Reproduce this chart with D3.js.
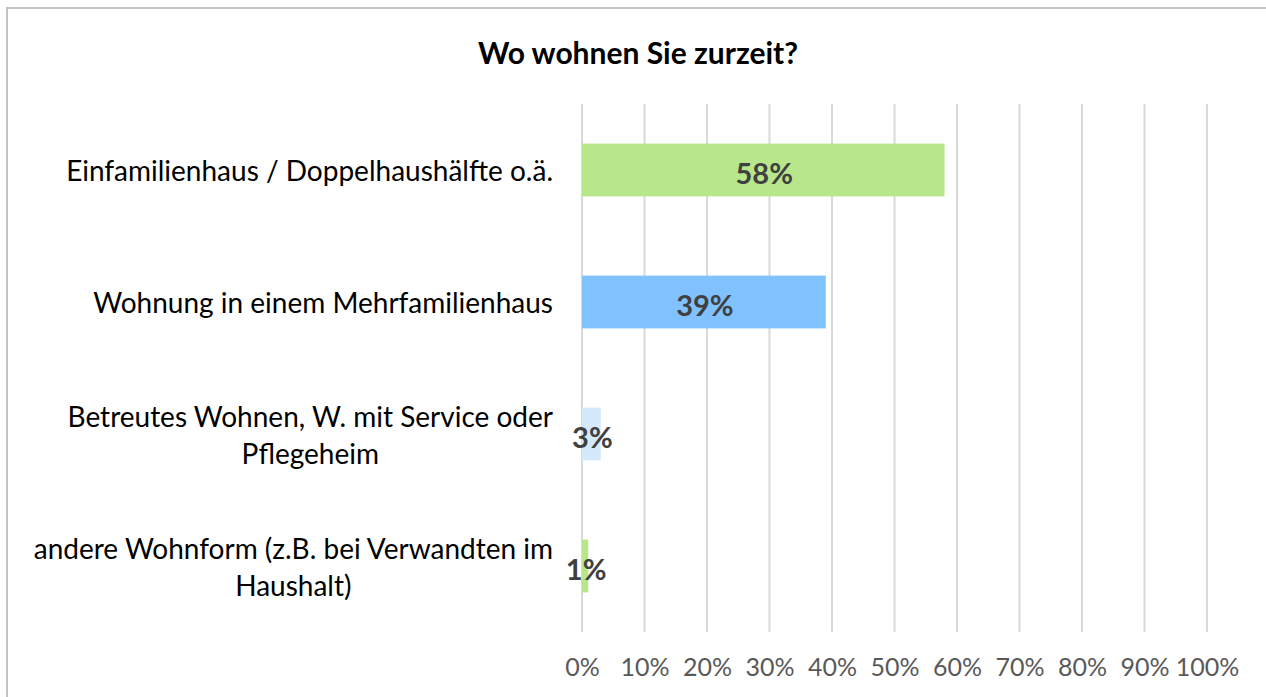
<!DOCTYPE html>
<html>
<head>
<meta charset="utf-8">
<script src="https://cdn.jsdelivr.net/npm/d3@7"></script>
<style>
  body { margin: 0; background: #fff; }
  text { font-family: Lato, "Open Sans", sans-serif; }
</style>
</head>
<body>
<div class="bar-chart"></div>
<script>
// data
const categories = [
    ["Einfamilienhaus / Doppelhaushälfte o.ä."],
    ["Wohnung in einem Mehrfamilienhaus"],
    ["Betreutes Wohnen, W. mit Service oder", "Pflegeheim"],
    ["andere Wohnform (z.B. bei Verwandten im", "Haushalt)"]
];
const values = [58, 39, 3, 1];
const barColors = ["#b8e68a", "#80c1ff", "#d4e9fc", "#b8e68a"];
const ticks = [0, 10, 20, 30, 40, 50, 60, 70, 80, 90, 100];
const title = "Wo wohnen Sie zurzeit?";

const W = 1266, H = 697;

const svg = d3.select(".bar-chart")
    .append("svg")
    .attr("width", W)
    .attr("height", H);

// chart border (right and bottom run off the picture)
svg.append("rect")
    .attr("x", 7)
    .attr("y", 8)
    .attr("width", W + 20)
    .attr("height", H + 20)
    .attr("fill", "#fff")
    .attr("stroke", "#c3c3c3")
    .attr("stroke-width", 2);

svg.append("text")
    .attr("x", 638)
    .attr("y", 52)
    .attr("text-anchor", "middle")
    .attr("dominant-baseline", "central")
    .attr("font-size", 30)
    .attr("font-weight", "bold")
    .attr("fill", "#000")
    .text(title);

const xScale = d3.scaleLinear()
    .domain([0, 100])
    .range([582, 1207]);

const yScale = d3.scaleBand()
    .domain(d3.range(categories.length))
    .range([104, 632])
    .paddingInner(0.6)
    .paddingOuter(0.3);

// gridlines
svg.append("g")
    .selectAll("line")
    .data(ticks)
    .enter()
    .append("line")
    .attr("x1", d => xScale(d))
    .attr("x2", d => xScale(d))
    .attr("y1", 104)
    .attr("y2", 632)
    .attr("stroke", "#d9d9d9")
    .attr("stroke-width", 2);

// x axis labels
const xAxis = d3.axisBottom(xScale)
    .tickValues(ticks)
    .tickSize(0)
    .tickPadding(0)
    .tickFormat(d => d + "%");

svg.append("g")
    .attr("class", "axis x-axis")
    .attr("transform", "translate(0, 658)")
    .call(xAxis)
    .call(g => g.select(".domain").remove())
    .selectAll("text")
    .attr("font-size", 25)
    .attr("font-family", "Lato, sans-serif")
    .attr("fill", "#595959");

// bars
svg.append("g")
    .selectAll("rect")
    .data(values)
    .enter()
    .append("rect")
    .attr("x", xScale(0))
    .attr("y", (d, i) => yScale(i))
    .attr("width", d => xScale(d) - xScale(0))
    .attr("height", yScale.bandwidth())
    .attr("fill", (d, i) => barColors[i]);

// value labels
svg.append("g")
    .selectAll("text")
    .data(values)
    .enter()
    .append("text")
    .attr("x", d => (xScale(0) + xScale(d)) / 2 + 1)
    .attr("y", (d, i) => yScale(i) + yScale.bandwidth() / 2 + 2)
    .attr("text-anchor", "middle")
    .attr("dominant-baseline", "central")
    .attr("font-size", 29)
    .attr("font-weight", "bold")
    .attr("fill", "#404040")
    .text(d => d + "%");

// category labels, wrapped lines centred as a block that ends at 553
const lineH = 37;
const labels = svg.append("g");
categories.forEach((lines, i) => {
    const cy = yScale(i) + yScale.bandwidth() / 2;
    const g = labels.append("g");
    const txt = g.selectAll("text")
        .data(lines)
        .enter()
        .append("text")
        .attr("y", (d, j) => cy + (j - (lines.length - 1) / 2) * lineH)
        .attr("text-anchor", "middle")
        .attr("dominant-baseline", "central")
        .attr("font-size", 28)
        .attr("fill", "#000")
        .text(d => d);
    let maxW = 0;
    txt.each(function(){ maxW = Math.max(maxW, this.getComputedTextLength()); });
    txt.attr("x", 553 - maxW / 2);
});
</script>
</body>
</html>
